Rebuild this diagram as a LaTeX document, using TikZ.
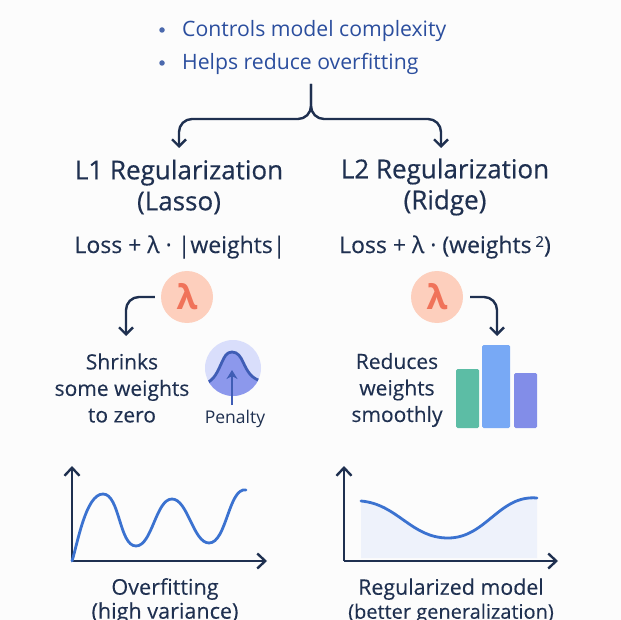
\documentclass[tikz,border=0pt]{standalone}
\usepackage{fontspec}
\setmainfont{Open Sans}
\usetikzlibrary{arrows.meta}
\definecolor{inkx}{HTML}{1F3050}
\definecolor{bluex}{HTML}{2B4E9E}
\definecolor{curvex}{HTML}{3B72D0}
\definecolor{corax}{HTML}{F0735A}
\definecolor{peax}{HTML}{FDCFBD}
\definecolor{halox}{HTML}{D9DEFB}
\definecolor{bellx}{HTML}{8C98EC}
\definecolor{penx}{HTML}{3F5DB5}
\definecolor{shadex}{HTML}{EEF2FB}
\definecolor{barax}{HTML}{5CBDA5}
\definecolor{barbx}{HTML}{78A9F5}
\definecolor{barcx}{HTML}{828DE8}
\tikzset{
    link/.style={inkx,line width=2.4pt,rounded corners=13pt,-{Straight Barb[length=7pt,width=14pt,line width=2.4pt]}},
    axisline/.style={inkx,line width=2.4pt,-{Straight Barb[length=8pt,width=15pt,line width=2.4pt]}},
    bullet/.style={circle,fill=bluex!85,inner sep=0pt,minimum size=5.5pt},
    listtext/.style={bluex,anchor=west,inner sep=0pt,font=\fontsize{21.2}{24}\selectfont},
    heading/.style={inkx,align=center,inner sep=0pt,font=\fontsize{26}{31}\selectfont\addfontfeature{FakeBold=0.5}},
    formula/.style={inkx,inner sep=0pt,font=\fontsize{23}{25}\selectfont\addfontfeature{FakeBold=0.2}},
    bodytext/.style={inkx,align=center,inner sep=0pt,font=\fontsize{21}{26.5}\selectfont\addfontfeature{FakeBold=0.2}},
    lambda/.style={circle,fill=peax,text=corax,inner sep=0pt,minimum size=52pt,font=\fontsize{34}{36}\selectfont\bfseries},
    curve/.style={curvex,line width=2.8pt,line cap=round}
}
\begin{document}
\begin{tikzpicture}[x=1pt,y=-1pt]
    \clip (0,0) rectangle (621,620);
    \fill [white!99!black] (0,0) rectangle (621,620);
    % top list
    \node [bullet] (dota) at (162,30) {};
    \node [bullet] (dotb) at (162,63) {};
    \node [listtext] (lista) at (182,31) {Controls model complexity};
    \node [listtext] (listb) at (182,64) {Helps reduce overfitting};
    % brace
    \coordinate (brace) at (311,84);
    \coordinate (elbowl) at (179,119);
    \coordinate (elbowr) at (441,119);
    \coordinate (tipl) at (179,148);
    \coordinate (tipr) at (441,148);
    \draw [link] (brace) |- (elbowl) -- (tipl);
    \draw [link] (brace) |- (elbowr) -- (tipr);
    % headings
    \node [heading] (headl) at (179,187) {L1 Regularization\\(Lasso)};
    \node [heading] (headr) at (445,187) {L2 Regularization\\(Ridge)};
    \node [formula] (lossl) at (180,247) {Loss + λ · |weights|};
    \node [formula] (lossr) at (445,247) {Loss + λ · (weights\,\raisebox{0.5ex}{\fontsize{15}{15}\selectfont 2})};
    % lambda
    \node [lambda] (laml) at (187,297) {λ};
    \node [lambda] (lamr) at (437,297) {λ};
    \coordinate (tipa) at (126,336);
    \coordinate (tipb) at (497,336);
    \draw [link] ([xshift=-6pt]laml.west) -| (tipa);
    \draw [link] ([xshift=7pt]lamr.east) -| (tipb);
    \node [bodytext] (shrink) at (122,388) {Shrinks\\some weights\\to zero};
    \node [bodytext] (reduce) at (397,390) {Reduces\\weights\\smoothly};
    % penalty bell
    \fill [halox] (233,368) circle (28);
    \begin{scope}
        \clip (233,368) circle (28);
        \fill [bellx] (205,384) to [out=25,in=-115] (222,362) to [out=65,in=180] (232,352)
            to [out=0,in=115] (243,362) to [out=-65,in=165] (261,381) -- (261,400) -- (205,400) -- cycle;
        \draw [penx,line width=2.8pt] (205,384) to [out=25,in=-115] (222,362) to [out=65,in=180] (232,352)
            to [out=0,in=115] (243,362) to [out=-65,in=165] (261,381);
    \end{scope}
    \coordinate (pena) at (232,405);
    \coordinate (penb) at (232,370);
    \draw [penx,line width=2.4pt,-{Stealth[length=9pt,width=11pt]}] (pena) -- (penb);
    \node [inkx,inner sep=0pt,font=\fontsize{17.5}{18}\selectfont] (penalty) at (235,419) {Penalty};
    % bars
    \fill [barax,rounded corners=1.5pt] (456,369) rectangle (479,428);
    \fill [barbx,rounded corners=1.5pt] (482,345) rectangle (510,428);
    \fill [barcx,rounded corners=1.5pt] (514,373) rectangle (537,428);
    % left chart
    \coordinate (orgl) at (72,561);
    \coordinate (topl) at (72,466);
    \coordinate (endl) at (267,561);
    \draw [axisline] (orgl) -- (topl);
    \draw [axisline] (orgl) -- (endl);
    \draw [curve] (orgl) to [out=72,in=180,looseness=0.6] (103,494)
        to [out=0,in=180,looseness=0.7] (136,546)
        to [out=0,in=180,looseness=0.7] (172,499)
        to [out=0,in=180,looseness=0.7] (209,543)
        to [out=0,in=170,looseness=0.7] (246,490);
    \node [bodytext,font=\fontsize{21.6}{24}\selectfont\addfontfeature{FakeBold=0.2}] (overfit) at (165,601) {Overfitting\\(high variance)};
    % right chart
    \coordinate (orgr) at (344,561);
    \coordinate (topr) at (344,466);
    \coordinate (endr) at (558,561);
    \fill [shadex] (361,501) to [out=-5,in=180,looseness=1] (448,538) to [out=0,in=175,looseness=1] (537,498) -- (537,558) -- (361,558) -- cycle;
    \draw [axisline] (orgr) -- (topr);
    \draw [axisline] (orgr) -- (endr);
    \draw [curve] (361,501) to [out=-5,in=180,looseness=1] (448,538) to [out=0,in=175,looseness=1] (537,498);
    \node [bodytext,font=\fontsize{21.4}{24}\selectfont\addfontfeature{FakeBold=0.2}] (regular) at (451,601) {Regularized model\\{\fontsize{20}{24}\selectfont (better generalization)}};
\end{tikzpicture}
\end{document}
